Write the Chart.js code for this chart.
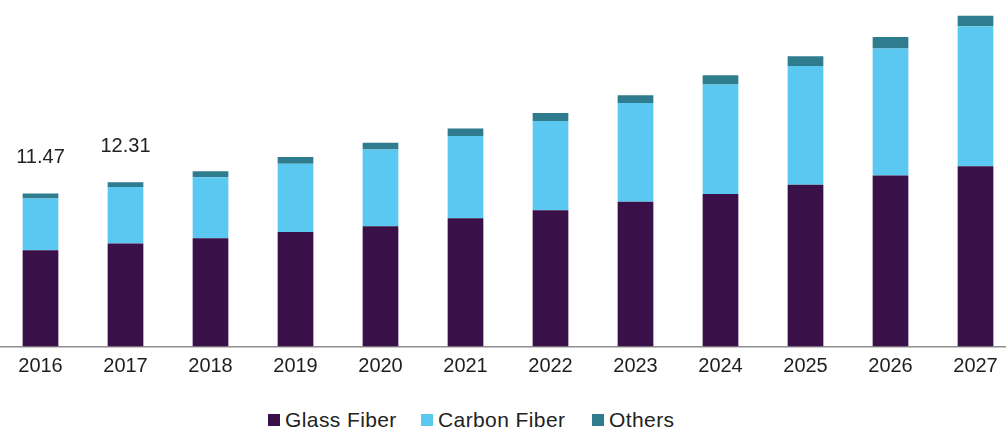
<!DOCTYPE html>
<html>
<head>
<meta charset="utf-8">
<script src="https://cdn.jsdelivr.net/npm/chart.js@4.4.0/dist/chart.umd.min.js"></script>
<style>
  html, body { margin: 0; padding: 0; background: #fff; }
  #wrap { position: relative; width: 1006px; height: 432px; overflow: hidden; font-family: "Liberation Sans", Arial, sans-serif; }
  #chartbox { position: absolute; left: -2px; top: 0; width: 1020px; height: 392px; }
  #legend { position: absolute; top: 408px; left: 0; width: 1006px; height: 24px; font-size: 21px; letter-spacing: 0.4px; color: #222; }
  #legend span.item { position: absolute; top: 0; display: flex; align-items: center; white-space: nowrap; }
  #legend i { display: inline-block; width: 12px; height: 12px; margin-right: 5px; }
</style>
</head>
<body>
<div id="wrap">
  <div id="chartbox"><canvas id="chart"></canvas></div>
  <div id="legend"></div>
</div>
<script>
// Composite materials market by fiber type, 2016 - 2027 (stacked bars)
const years = ['2016', '2017', '2018', '2019', '2020', '2021', '2022', '2023', '2024', '2025', '2026', '2027'];
const glassFiber  = [7.22, 7.72, 8.12, 8.59, 9.01, 9.61, 10.22, 10.85, 11.44, 12.12, 12.82, 13.52];
const carbonFiber = [3.87, 4.23, 4.57, 5.11, 5.77, 6.17, 6.68, 7.41, 8.20, 8.92, 9.53, 10.50];
const others      = [0.38, 0.36, 0.45, 0.50, 0.49, 0.56, 0.60, 0.58, 0.70, 0.73, 0.85, 0.77];
// totals printed above the first two bars only
const totalLabels = ['11.47', '12.31', '', '', '', '', '', '', '', '', '', ''];

const COLORS = { glass: '#3a1048', carbon: '#5bc8f1', others: '#2e7c8d' };

// value labels drawn over the top segment
const totalsPlugin = {
  id: 'totals',
  afterDatasetsDraw(chart) {
    const ctx = chart.ctx;
    const meta = chart.getDatasetMeta(2);
    ctx.save();
    ctx.font = '20px "Liberation Sans", Arial, sans-serif';
    ctx.fillStyle = '#222';
    ctx.textAlign = 'center';
    ctx.textBaseline = 'middle';
    meta.data.forEach((bar, i) => {
      if (!totalLabels[i]) return;
      ctx.fillText(totalLabels[i], bar.x, bar.y - 36);
    });
    ctx.restore();
  }
};

new Chart(document.getElementById('chart'), {
  type: 'bar',
  data: {
    labels: years,
    datasets: [
      { label: 'Glass Fiber', data: glassFiber, backgroundColor: COLORS.glass },
      { label: 'Carbon Fiber', data: carbonFiber, backgroundColor: COLORS.carbon },
      { label: 'Others', data: others, backgroundColor: COLORS.others },
    ]
  },
  options: {
    responsive: true, maintainAspectRatio: false, animation: false,
    datasets: { bar: { categoryPercentage: 1, barPercentage: 0.42 } },
    layout: { padding: { top: 6, bottom: 5.5, left: 0, right: 0 } },
    scales: {
      x: {
        stacked: true,
        grid: { display: false, drawTicks: false },
        border: { display: true, color: '#8f8f8f', width: 1.5 },
        ticks: { padding: 8, color: '#1e1e1e', font: { family: '"Liberation Sans", Arial, sans-serif', size: 20 } }
      },
      y: { stacked: true, display: false, min: 0, max: 25.53 }
    },
    plugins: { legend: { display: false }, tooltip: { enabled: false } }
  },
  plugins: [totalsPlugin]
});

// legend
const legendItems = [
  { text: 'Glass Fiber', color: COLORS.glass, left: 268 },
  { text: 'Carbon Fiber', color: COLORS.carbon, left: 421 },
  { text: 'Others', color: COLORS.others, left: 592 },
];
document.getElementById('legend').innerHTML = legendItems.map(it =>
  '<span class="item" style="left:' + it.left + 'px"><i style="background:' + it.color + '"></i>' + it.text + '</span>'
).join('');
</script>
</body>
</html>
